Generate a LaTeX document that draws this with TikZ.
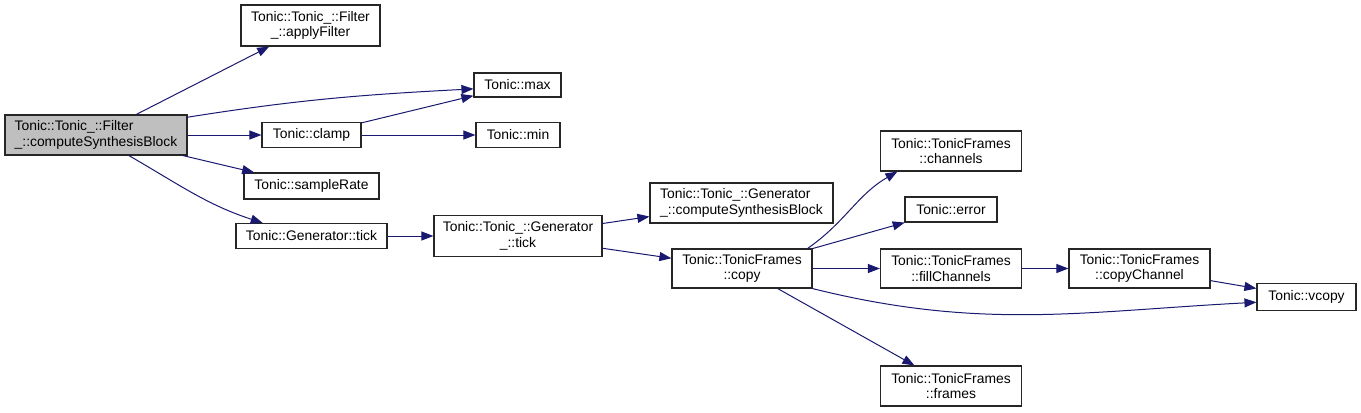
\documentclass[tikz,border=0pt]{standalone}
\usepackage{fontspec}
\setmainfont{Liberation Sans}
\usepackage{tikz}
\usetikzlibrary{arrows.meta}
\definecolor{callblue}{HTML}{191970}

\begin{document}
\begin{tikzpicture}[
x=0.75pt, y=0.75pt,
font=\fontsize{10.4}{11.6}\selectfont,
func/.style={draw=black!85, line width=0.85pt, fill=white, inner sep=0pt, align=center},
oneline/.style={func, minimum height=18.75pt},
twoline/.style={func, minimum height=30pt},
call/.style={draw=callblue, line width=0.75pt, -{Triangle[length=9pt,width=6.75pt]}}
]
    \useasboundingbox (0,0) rectangle (1361,-412);

    % Draw functions
    \node (fcomp) [twoline, fill=gray!50, align=left, minimum width=136.5pt] at (96,-135)
        {Tonic::Tonic\_::Filter\\\_::computeSynthesisBlock};
    \node (apply) [twoline, minimum width=104.25pt, minimum height=30.75pt] at (310.5,-25.5)
        {Tonic::Tonic\_::Filter\\\_::applyFilter};
    \node (tmax) [oneline, minimum width=65.25pt, minimum height=18pt] at (517.5,-85) {Tonic::max};
    \node (clamp) [oneline, minimum width=74.25pt] at (311.5,-135) {Tonic::clamp};
    \node (tmin) [oneline, minimum width=63pt] at (518,-135) {Tonic::min};
    \node (srate) [oneline, minimum width=101.25pt, minimum height=19.5pt] at (311.5,-186) {Tonic::sampleRate};
    \node (gtick) [oneline, minimum width=113.25pt] at (311.5,-236) {Tonic::Generator::tick};
    \node (gutick) [twoline, minimum width=126pt, minimum height=30.75pt] at (518,-236)
        {Tonic::Tonic\_::Generator\\\_::tick};
    \node (gcomp) [twoline, align=left, minimum width=137.25pt] at (741.5,-203)
        {Tonic::Tonic\_::Generator\\\_::computeSynthesisBlock};
    \node (copy) [twoline, minimum width=105pt, minimum height=29.25pt] at (742,-268.5)
        {Tonic::TonicFrames\\::copy};
    \node (chans) [twoline, minimum width=105.75pt] at (951,-151)
        {Tonic::TonicFrames\\::channels};
    \node (err) [oneline, minimum width=69pt] at (951,-209.5) {Tonic::error};
    \node (fill) [twoline, minimum width=105.75pt, minimum height=29.25pt] at (951,-268.5)
        {Tonic::TonicFrames\\::fillChannels};
    \node (cchan) [twoline, minimum width=105.75pt, minimum height=29.25pt] at (1139.5,-268.5)
        {Tonic::TonicFrames\\::copyChannel};
    \node (vcopy) [oneline, minimum width=74.25pt, minimum height=20.25pt] at (1306.5,-297) {Tonic::vcopy};
    \node (frames) [twoline, minimum width=105.75pt] at (951,-386)
        {Tonic::TonicFrames\\::frames};

    % Draw calls
    \draw[call] (fcomp) -- (apply);
    \draw[call] (fcomp.11) to[out=9, in=183] (tmax.185);
    \draw[call] (fcomp) -- (clamp);
    \draw[call] (fcomp) -- (srate);
    \draw[call] (fcomp.-32) to[out=-30, in=162] (gtick.165);
    \draw[call] (clamp) -- (tmax);
    \draw[call] (clamp) -- (tmin);
    \draw[call] (gtick) -- (gutick);
    \draw[call] (gutick) -- (gcomp);
    \draw[call] (gutick) -- (copy);
    \draw[call] (copy.17) to[out=35, in=210] (chans.201);
    \draw[call] (copy) -- (err);
    \draw[call] (copy) -- (fill);
    \draw[call] (copy.south east) to[out=-14, in=183] (vcopy.186);
    \draw[call] (copy) -- (frames);
    \draw[call] (fill) -- (cchan);
    \draw[call] (cchan) -- (vcopy);
\end{tikzpicture}
\end{document}
